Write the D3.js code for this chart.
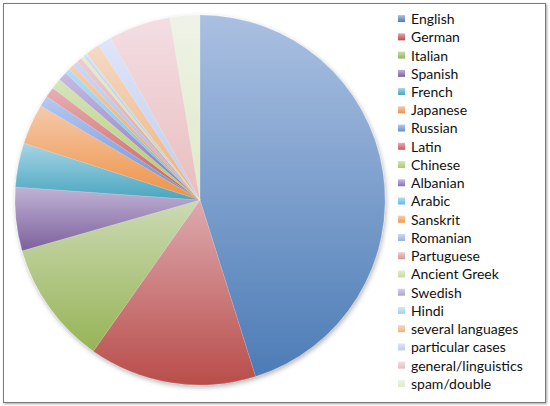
<!DOCTYPE html>
<html>
<head>
<meta charset="utf-8">
<script src="https://cdn.jsdelivr.net/npm/d3@7"></script>
<style>
  body { margin: 0; background: #fff; }
  svg { display: block; }
</style>
</head>
<body>
<script>
// languages, counts (clockwise from 12 o'clock)
var languages = ["English", "German", "Italian", "Spanish", "French", "Japanese", "Russian",
  "Latin", "Chinese", "Albanian", "Arabic", "Sanskrit", "Romanian", "Partuguese",
  "Ancient Greek", "Swedish", "Hindi", "several languages", "particular cases",
  "general/linguistics", "spam/double"];
var counts = [293, 95, 70, 36, 25, 23, 6, 6, 6, 5, 3, 3, 3, 3, 2, 1, 1, 8, 8, 35, 17];
var colors = ["#4f81bd", "#c0504d", "#9bbb59", "#8064a2", "#4bacc6", "#f79646", "#6b95de",
  "#d65a58", "#aed36a", "#8f72c2", "#62c3e4", "#f8a048", "#9db6ec", "#e39a98",
  "#cde59c", "#b4a6da", "#a3dcf0", "#f6b77e", "#c5d3f4", "#f1c4c4", "#e6f2cc"];

var width = 550, height = 406;
var svg = d3.select("body").append("svg").attr("width", width).attr("height", height);
var defs = svg.append("defs");

// chart frame with a soft shadow
var fs = defs.append("filter").attr("id", "frameShadow")
  .attr("x", "-5%").attr("y", "-5%").attr("width", "110%").attr("height", "110%");
fs.append("feDropShadow").attr("dx", 1).attr("dy", 1).attr("stdDeviation", 1)
  .attr("flood-color", "#000").attr("flood-opacity", 0.35);
svg.append("rect").attr("x", 3.5).attr("y", 3.5).attr("width", 542).attr("height", 399)
  .attr("fill", "#fff").attr("stroke", "#7a7a7a").attr("stroke-width", 1)
  .attr("filter", "url(#frameShadow)");

// one vertical gradient per colour: light on top, full colour at the bottom
colors.forEach(function(c, i) {
  var g = defs.append("linearGradient").attr("id", "grad" + i)
    .attr("x1", 0).attr("y1", 0).attr("x2", 0).attr("y2", 1);
  g.append("stop").attr("offset", "0%").attr("stop-color", d3.interpolateRgb(c, "#f4f4ff")(0.55));
  g.append("stop").attr("offset", "100%").attr("stop-color", d3.color(c).darker(0.1));
});

var ps = defs.append("filter").attr("id", "pieShadow")
  .attr("x", "-10%").attr("y", "-10%").attr("width", "120%").attr("height", "120%");
ps.append("feDropShadow").attr("dx", 1).attr("dy", 2).attr("stdDeviation", 2.5)
  .attr("flood-color", "#000").attr("flood-opacity", 0.3);

var data = languages.map(function(l, i) { return { name: l, value: counts[i], i: i }; });

var pie = d3.pie().sort(null).value(function(d) { return d.value; });
var arc = d3.arc().innerRadius(0).outerRadius(185);

var g = svg.append("g").attr("transform", "translate(200,200)").attr("filter", "url(#pieShadow)");
g.selectAll("path").data(pie(data)).enter().append("path")
  .attr("d", arc)
  .attr("fill", function(d) { return "url(#grad" + d.data.i + ")"; })
  .attr("stroke", "rgba(255,255,255,0.25)")
  .attr("stroke-width", 0.5);

// legend
var y = d3.scaleBand().domain(languages).range([10, 393]);
var legend = svg.append("g");
var row = legend.selectAll("g").data(data).enter().append("g")
  .attr("transform", function(d) { return "translate(398," + (y(d.name) + y.bandwidth() / 2) + ")"; });
row.append("rect").attr("x", 0).attr("y", -4).attr("width", 7).attr("height", 7)
  .attr("fill", function(d) { return "url(#grad" + d.i + ")"; });
row.append("text").attr("x", 13).attr("y", 0).attr("dy", "0.35em")
  .attr("font-family", "Lato, sans-serif").attr("font-size", 14).attr("fill", "#111")
  .text(function(d) { return d.name; });
</script>
</body>
</html>
